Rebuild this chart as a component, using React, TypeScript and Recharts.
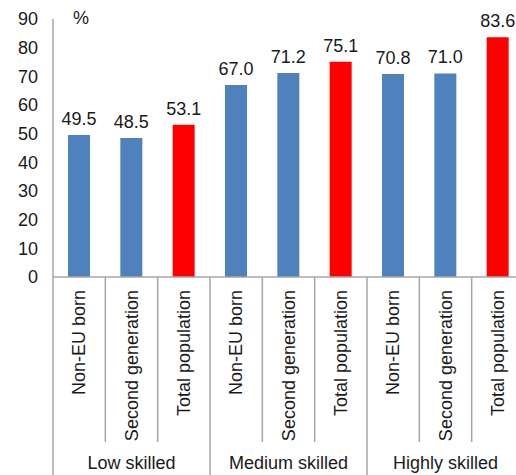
import { BarChart, Bar, XAxis, YAxis, Cell, LabelList } from 'recharts';

const categories = [
  'Non-EU born', 'Second generation', 'Total population',
  'Non-EU born', 'Second generation', 'Total population',
  'Non-EU born', 'Second generation', 'Total population',
];
const groups = ['Low skilled', 'Medium skilled', 'Highly skilled'];
const values = [49.5, 48.5, 53.1, 67.0, 71.2, 75.1, 70.8, 71.0, 83.6];
const yTicks = [0, 10, 20, 30, 40, 50, 60, 70, 80, 90];

const BLUE = '#4F81BD';
const RED = '#FF0000';
const GRID = '#A6A6A6';
const FONT = '"Liberation Sans", Arial, sans-serif';

const data = categories.map((name, i) => ({
  key: `c${i}`,
  name,
  value: values[i],
  total: i % 3 === 2,
}));

const BAND = 471 / 9;

const CategoryTick = (props: any) => {
  const { x, y, payload } = props;
  const i = payload.index;
  const left = x - BAND / 2;
  const right = x + BAND / 2;
  const top = y - 8;
  return (
    <g>
      <line x1={left} x2={left} y1={top} y2={i % 3 === 0 ? 475 : 442} stroke={GRID} strokeWidth={1.5} />
      {i === categories.length - 1 && (
        <line x1={right} x2={right} y1={top} y2={475} stroke={GRID} strokeWidth={1.5} />
      )}
      <text
        x={x}
        y={top + 13}
        transform={`rotate(-90, ${x}, ${top + 13})`}
        textAnchor="end"
        dy="0.35em"
        fontSize={18}
        fontFamily={FONT}
        fill="#1a1a1a"
      >
        {categories[i]}
      </text>
      {i % 3 === 1 && (
        <text x={x} y={463} textAnchor="middle" dy="0.35em" fontSize={18} fontFamily={FONT} fill="#1a1a1a">
          {groups[(i - 1) / 3]}
        </text>
      )}
    </g>
  );
};

export default function App() {
  return (
    <div style={{ position: 'absolute', left: 0, top: 0, width: 516, height: 475, overflow: 'hidden', background: '#fff' }}>
      <BarChart width={525} height={475} data={data} margin={{ top: 19, right: 1, bottom: 0, left: 0 }}>
        <YAxis
          domain={[0, 90]}
          ticks={yTicks}
          width={53}
          tickLine={false}
          tickSize={0}
          tickMargin={15}
          axisLine={{ stroke: GRID, strokeWidth: 1.5 }}
          tick={{ fontSize: 18, fontFamily: FONT, fill: '#1a1a1a' }}
          interval={0}
        />
        <XAxis
          dataKey="key"
          height={198}
          tickLine={false}
          tickSize={0}
          tickMargin={8}
          interval={0}
          axisLine={{ stroke: GRID, strokeWidth: 1.5 }}
          tick={<CategoryTick />}
        />
        <Bar dataKey="value" barSize={22} isAnimationActive={false}>
          {data.map((d) => (
            <Cell key={d.key} fill={d.total ? RED : BLUE} />
          ))}
          <LabelList
            dataKey="value"
            position="top"
            offset={10}
            formatter={(v: any) => Number(v).toFixed(1)}
            style={{ fontSize: 18, fontFamily: FONT, fill: '#1a1a1a' }}
          />
        </Bar>
      </BarChart>
      <span style={{ position: 'absolute', left: 73, top: 8, fontSize: 18, fontFamily: FONT, color: '#1a1a1a' }}>%</span>
    </div>
  );
}
